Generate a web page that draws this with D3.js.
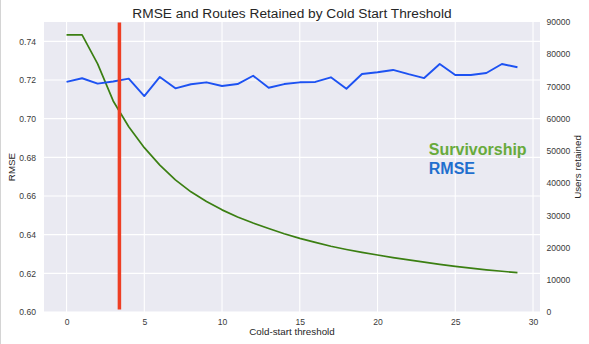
<!DOCTYPE html>
<html>
<head>
<meta charset="utf-8">
<script src="https://cdn.jsdelivr.net/npm/d3@7"></script>
<style>
  html, body { margin: 0; padding: 0; background: #ffffff; }
  svg { display: block; font-family: "Liberation Sans", Arial, sans-serif; }
</style>
</head>
<body>
<svg id="chart" width="589" height="344"></svg>
<script>
// ---- data ----
const thresholds = d3.range(0, 30);
const rmse = [0.7190, 0.7209, 0.7181, 0.7192, 0.7207, 0.7117, 0.7216, 0.7157, 0.7178, 0.7188,
              0.7169, 0.7179, 0.7222, 0.7160, 0.7179, 0.7188, 0.7190, 0.7214, 0.7155, 0.7231,
              0.7240, 0.7252, 0.7230, 0.7210, 0.7283, 0.7226, 0.7226, 0.7236, 0.7283, 0.7266];
const usersRetained = [86000, 86000, 77000, 65500, 57500, 51000, 45600, 41000, 37300, 34300,
                       31700, 29500, 27600, 25900, 24300, 22850, 21600, 20400, 19400, 18500,
                       17700, 16900, 16200, 15500, 14800, 14150, 13600, 13100, 12650, 12200];
const cutoff = 3.4;
const xTicks = [0, 5, 10, 15, 20, 25, 30];
const leftTicks = [0.60, 0.62, 0.64, 0.66, 0.68, 0.70, 0.72, 0.74];
const rightTicks = d3.range(0, 90001, 10000);
const title = "RMSE and Routes Retained by Cold Start Threshold";
const xLabel = "Cold-start threshold";
const leftLabel = "RMSE";
const rightLabel = "Users retained";
const legendTexts = ["Survivorship", "RMSE"];

// ---- layout ----
const L = 44, R = 540, T = 22, B = 312;
const svg = d3.select("#chart");

const x = d3.scaleLinear().domain([-1.45, 30.45]).range([L, R]);
const yL = d3.scaleLinear().domain([0.60, 0.75]).range([B, T]);
const yR = d3.scaleLinear().domain([0, 90000]).range([B, T]);

// left border line of figure
svg.append("line").attr("x1", 0.5).attr("x2", 0.5).attr("y1", 0).attr("y2", 344)
  .attr("stroke", "#d4d4d4").attr("stroke-width", 1);

// plot background
svg.append("rect").attr("x", L).attr("y", T).attr("width", R - L).attr("height", B - T)
  .attr("fill", "#EAEAF2");

// grid
const grid = svg.append("g");
grid.selectAll(".vg").data(xTicks).join("line")
  .attr("x1", d => x(d)).attr("x2", d => x(d)).attr("y1", T).attr("y2", B)
  .attr("stroke", "#ffffff").attr("stroke-width", 1.1);
grid.selectAll(".hg").data(leftTicks).join("line")
  .attr("x1", L).attr("x2", R).attr("y1", d => yL(d)).attr("y2", d => yL(d))
  .attr("stroke", "#ffffff").attr("stroke-width", 1.1);

// axes
function styleAxis(g) {
  g.select(".domain").remove();
  g.selectAll("text").attr("fill", "#3a3a3a").style("font-size", "8.6px")
    .style("font-family", '"Liberation Sans", Arial, sans-serif');
}
svg.append("g").attr("transform", `translate(0,${B})`)
  .call(d3.axisBottom(x).tickValues(xTicks).tickSize(0).tickPadding(6.5).tickFormat(d3.format("d")))
  .call(styleAxis);
svg.append("g").attr("transform", `translate(${L},0)`)
  .call(d3.axisLeft(yL).tickValues(leftTicks).tickSize(0).tickPadding(8).tickFormat(d3.format(".2f")))
  .call(styleAxis);
svg.append("g").attr("transform", `translate(${R},0)`)
  .call(d3.axisRight(yR).tickValues(rightTicks).tickSize(0).tickPadding(6.5).tickFormat(d3.format("d")))
  .call(styleAxis);

// lines
const rmseLine = d3.line().x((d, i) => x(thresholds[i])).y(d => yL(d));
const usersLine = d3.line().x((d, i) => x(thresholds[i])).y(d => yR(d));

svg.append("path").datum(usersRetained).attr("d", usersLine)
  .attr("fill", "none").attr("stroke", "#3b7f12").attr("stroke-width", 1.7)
  .attr("stroke-linejoin", "round");

svg.append("path").datum(rmse).attr("d", rmseLine)
  .attr("fill", "none").attr("stroke", "#1d52f2").attr("stroke-width", 1.9)
  .attr("stroke-linejoin", "round");

// cutoff line
svg.append("line")
  .attr("x1", x(cutoff)).attr("x2", x(cutoff))
  .attr("y1", yL(0.7497)).attr("y2", yL(0.6013))
  .attr("stroke", "#ee3e24").attr("stroke-width", 3.5);

// annotations
svg.append("text").attr("x", x(23.3)).attr("y", yL(0.6812))
  .text(legendTexts[0]).attr("fill", "#68aa3c")
  .style("font-size", "16px").style("font-weight", "bold");
svg.append("text").attr("x", x(23.3)).attr("y", yL(0.6714))
  .text(legendTexts[1]).attr("fill", "#1f6fce")
  .style("font-size", "16px").style("font-weight", "bold");

// title and labels
svg.append("text").attr("x", (L + R) / 2).attr("y", 17.5).attr("text-anchor", "middle")
  .text(title).attr("fill", "#262626").style("font-size", "13.7px");
svg.append("text").attr("x", (L + R) / 2).attr("y", 335).attr("text-anchor", "middle")
  .text(xLabel).attr("fill", "#262626").style("font-size", "9.8px");
svg.append("text").attr("transform", `translate(15,${(T + B) / 2}) rotate(-90)`)
  .attr("text-anchor", "middle").text(leftLabel).attr("fill", "#262626").style("font-size", "9.8px");
svg.append("text").attr("transform", `translate(581,${(T + B) / 2}) rotate(-90)`)
  .attr("text-anchor", "middle").text(rightLabel).attr("fill", "#262626").style("font-size", "9.8px");
</script>
</body>
</html>
